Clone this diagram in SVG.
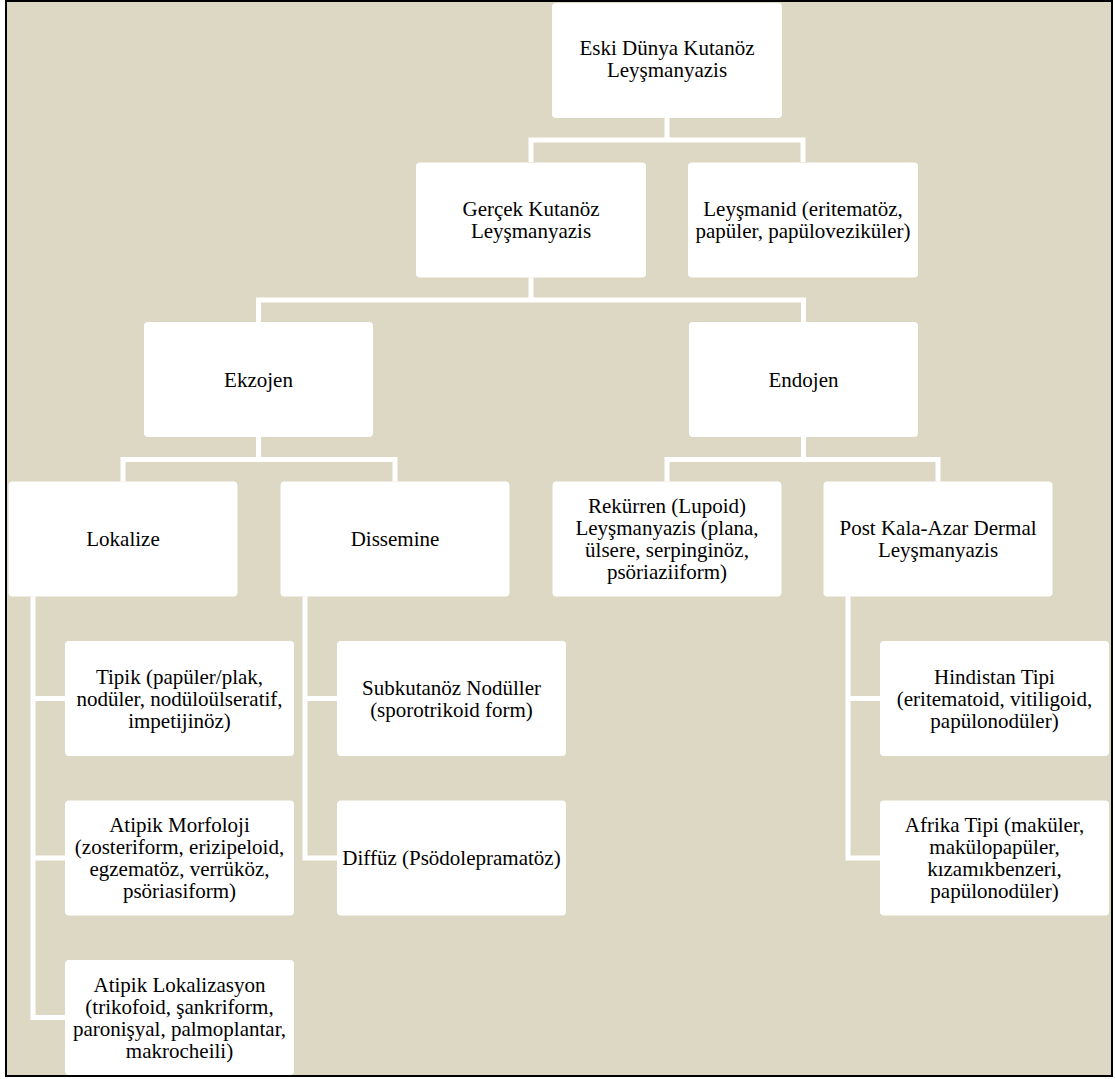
<svg xmlns="http://www.w3.org/2000/svg" width="1115" height="1079" viewBox="0 0 1115 1079">
<style>
.bg{fill:#ddd8c3}
.frame{fill:none;stroke:#000;stroke-width:2}
.box{fill:#fff}
.con{fill:none;stroke:#fff;stroke-width:5;stroke-linejoin:miter}
.t{font-family:'Liberation Serif','DejaVu Serif',serif;font-size:21px;fill:#000;text-anchor:middle}
</style>
<rect x="0" y="0" width="1115" height="1079" fill="#fff"/>
<rect class="bg" x="6" y="1" width="1106" height="1075"/>
<g id="connectors">
<path class="con" d="M667,118 V140 M531,162 V140 H803 V162"/>
<path class="con" d="M531,277.5 V300 M258.5,322 V300 H803.5 V322"/>
<path class="con" d="M258.5,437 V459.5 M123,481.5 V459.5 H395 V481.5"/>
<path class="con" d="M803.5,437 V459.5 M667,481.5 V459.5 H938 V481.5"/>
<path class="con" d="M33,596.5 V1017.5 H65 M33,698.5 H65 M33,858 H65"/>
<path class="con" d="M305,596.5 V858 H337 M305,698.5 H337"/>
<path class="con" d="M848,596.5 V858 H880 M848,698.5 H880"/>
</g>
<g class="t" font-family="Liberation Serif, DejaVu Serif, serif">
<g id="n-root"><rect class="box" x="552" y="3" width="230" height="115" rx="4"/>
<text x="667" y="55">Eski Dünya Kutanöz</text><text x="667" y="77">Leyşmanyazis</text></g>
<g id="n-gercek"><rect class="box" x="416" y="162.5" width="230" height="115" rx="4"/>
<text x="531" y="216">Gerçek Kutanöz</text><text x="531" y="238">Leyşmanyazis</text></g>
<g id="n-leysmanid"><rect class="box" x="688" y="162.5" width="230" height="115" rx="4"/>
<text x="803" y="216">Leyşmanid (eritematöz,</text><text x="803" y="238">papüler, papüloveziküler)</text></g>
<g id="n-ekzojen"><rect class="box" x="144" y="322" width="229" height="115" rx="4"/>
<text x="258.5" y="387">Ekzojen</text></g>
<g id="n-endojen"><rect class="box" x="689" y="322" width="229" height="115" rx="4"/>
<text x="803.5" y="387">Endojen</text></g>
<g id="n-lokalize"><rect class="box" x="8.5" y="481.5" width="229" height="115" rx="4"/>
<text x="123" y="546">Lokalize</text></g>
<g id="n-dissemine"><rect class="box" x="280.5" y="481.5" width="229" height="115" rx="4"/>
<text x="395" y="546">Dissemine</text></g>
<g id="n-rekurren"><rect class="box" x="552.5" y="481.5" width="229" height="115" rx="4"/>
<text x="667" y="513">Rekürren (Lupoid)</text><text x="667" y="535">Leyşmanyazis (plana,</text><text x="667" y="557">ülsere, serpinginöz,</text><text x="667" y="579">psöriaziiform)</text></g>
<g id="n-postkala"><rect class="box" x="823.5" y="481.5" width="229" height="115" rx="4"/>
<text x="938" y="535">Post Kala-Azar Dermal</text><text x="938" y="557">Leyşmanyazis</text></g>
<g id="n-tipik"><rect class="box" x="65" y="641" width="229" height="115" rx="4"/>
<text x="179.5" y="683.5">Tipik (papüler/plak,</text><text x="179.5" y="705.5">nodüler, nodüloülseratif,</text><text x="179.5" y="727.5">impetijinöz)</text></g>
<g id="n-subkutanoz"><rect class="box" x="337" y="641" width="229" height="115" rx="4"/>
<text x="451.5" y="694.5">Subkutanöz Nodüller</text><text x="451.5" y="716.5">(sporotrikoid form)</text></g>
<g id="n-hindistan"><rect class="box" x="880" y="641" width="229" height="115" rx="4"/>
<text x="994.5" y="683.5">Hindistan Tipi</text><text x="994.5" y="705.5">(eritematoid, vitiligoid,</text><text x="994.5" y="727.5">papülonodüler)</text></g>
<g id="n-atipikmorf"><rect class="box" x="65" y="800.5" width="229" height="115" rx="4"/>
<text x="179.5" y="832">Atipik Morfoloji</text><text x="179.5" y="854">(zosteriform, erizipeloid,</text><text x="179.5" y="876">egzematöz, verrüköz,</text><text x="179.5" y="898">psöriasiform)</text></g>
<g id="n-diffuz"><rect class="box" x="337" y="800.5" width="229" height="115" rx="4"/>
<text x="451.5" y="865">Diffüz (Psödolepramatöz)</text></g>
<g id="n-afrika"><rect class="box" x="880" y="800.5" width="229" height="115" rx="4"/>
<text x="994.5" y="832">Afrika Tipi (maküler,</text><text x="994.5" y="854">makülopapüler,</text><text x="994.5" y="876">kızamıkbenzeri,</text><text x="994.5" y="898">papülonodüler)</text></g>
<g id="n-atipiklok"><rect class="box" x="65" y="960" width="229" height="115" rx="4"/>
<text x="179.5" y="991.5">Atipik Lokalizasyon</text><text x="179.5" y="1013.5">(trikofoid, şankriform,</text><text x="179.5" y="1035.5">paronişyal, palmoplantar,</text><text x="179.5" y="1057.5">makrocheili)</text></g>
</g>
<rect class="frame" x="6" y="1" width="1106" height="1075"/>
</svg>
